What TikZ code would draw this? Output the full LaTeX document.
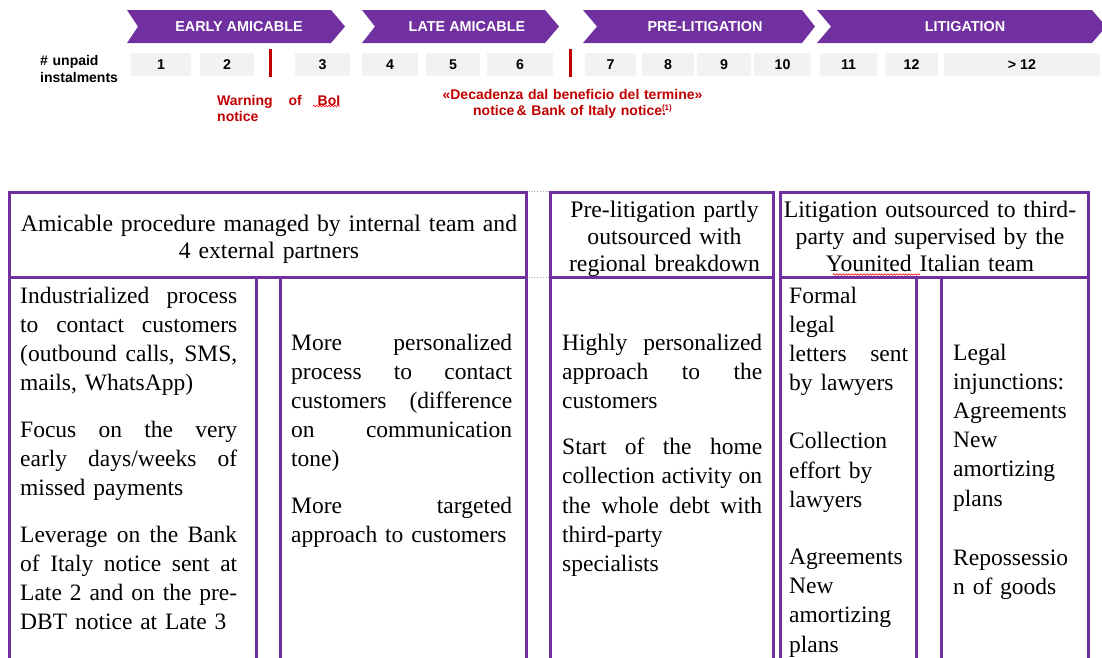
\documentclass[tikz,border=0pt]{standalone}
\usepackage{fontspec}
\setmainfont{Liberation Serif}
\newfontfamily\arialf{Liberation Sans}
\usetikzlibrary{decorations.pathmorphing}
\definecolor{vpurple}{HTML}{7030A0}
\definecolor{vred}{HTML}{C00000}
\definecolor{vgray}{HTML}{F2F2F2}
\definecolor{vdot}{HTML}{A6A6A6}
\newcommand\J[1]{\leavevmode\hbox to \hsize{\spaceskip=0.25em plus 1fil\relax #1}}
\tikzset{
  chev/.style={fill=vpurple},
  chevtxt/.style={text=white, font=\arialf\bfseries\fontsize{14.4}{16}\selectfont, inner sep=0pt},
  numbox/.style={fill=vgray, minimum height=23pt, inner sep=0pt, font=\arialf\bfseries\fontsize{14.2}{16}\selectfont},
  redtxt/.style={text=vred, font=\arialf\bfseries\fontsize{14}{16}\selectfont, inner sep=0pt},
  redbar/.style={draw=vred, line width=3pt},
  tline/.style={draw=vpurple, line width=3pt},
  dotline/.style={draw=vdot, line width=0.8pt, dotted},
  hdr/.style={anchor=base, align=center, inner sep=0pt, font=\fontsize{23.7}{27.3}\selectfont},
  body/.style={anchor=base west, align=left, inner sep=0pt, font=\fontsize{23.5}{29.1}\selectfont},
  squig/.style={draw=red, line width=0.6pt, decorate, decoration={snake, amplitude=0.8pt, segment length=3pt}}
}
\begin{document}
\begin{tikzpicture}[x=1pt,y=-1pt]
\useasboundingbox (0,0) rectangle (1102,657);
% chevrons
\fill[chev] (127,10) -- (331,10) -- (345,26.5) -- (331,43) -- (127,43) -- (138,26.5) -- cycle;
\node[chevtxt] (c1) at (239,26.5) {EARLY AMICABLE};
\fill[chev] (362,10) -- (545,10) -- (559,26.5) -- (545,43) -- (362,43) -- (375,26.5) -- cycle;
\node[chevtxt] (c2) at (467,26.5) {LATE AMICABLE};
\fill[chev] (583,10) -- (802,10) -- (815,26.5) -- (802,43) -- (583,43) -- (597,26.5) -- cycle;
\node[chevtxt] (c3) at (705,26.5) {PRE-LITIGATION};
\fill[chev] (817,10) -- (1092,10) -- (1106,26.5) -- (1092,43) -- (817,43) -- (831,26.5) -- cycle;
\node[chevtxt] (c4) at (965,26.5) {LITIGATION};
% label
\node[anchor=base west, align=left, text width=90pt, inner sep=0pt, font=\arialf\bfseries\fontsize{14}{17}\selectfont] (lab) at (40,65) {\# unpaid\\instalments};
% number boxes
\node[numbox, minimum width=60pt] (n1) at (161,64.5) {1};
\node[numbox, minimum width=54pt] (n2) at (227,64.5) {2};
\node[numbox, minimum width=55pt] (n3) at (322.5,64.5) {3};
\node[numbox, minimum width=56pt] (n4) at (390,64.5) {4};
\node[numbox, minimum width=54pt] (n5) at (453,64.5) {5};
\node[numbox, minimum width=66pt] (n6) at (520,64.5) {6};
\node[numbox, minimum width=51pt] (n7) at (610.5,64.5) {7};
\node[numbox, minimum width=52pt] (n8) at (668,64.5) {8};
\node[numbox, minimum width=54pt] (n9) at (724,64.5) {9};
\node[numbox, minimum width=57pt] (n10) at (782.5,64.5) {10};
\node[numbox, minimum width=57pt] (n11) at (848.5,64.5) {11};
\node[numbox, minimum width=53pt] (n12) at (911.5,64.5) {12};
\node[numbox, minimum width=156pt] (n13) at (1022,64.5) {> 12};
% red bars
\coordinate (r1t) at (270,49); \coordinate (r1b) at (270,77);
\coordinate (r2t) at (570,49); \coordinate (r2b) at (570,77);
\draw[redbar] (r1t) -- (r1b);
\draw[redbar] (r2t) -- (r2b);
% red texts
\node[redtxt, anchor=base west, align=left, text width=123pt] (w1) at (217,105) {\J{Warning of BoI}\\notice};
\draw[squig] (313,106) -- (340,106);
\node[redtxt, anchor=base, align=center, text width=300pt] (w2) at (572.5,99) {«Decadenza dal beneficio del termine»\\notice\,\& Bank of Italy notice.\hspace{-4pt}\raisebox{5pt}{\fontsize{8}{8}\selectfont(1)}};
% table lines
\draw[dotline] (526,191) -- (550,191);
\draw[dotline] (526,277) -- (550,277);
\draw[tline] (9.5,660) -- (9.5,192.5) -- (526,192.5) -- (526,660);
\draw[tline] (9.5,277.5) -- (526,277.5);
\draw[tline] (256.5,277.5) -- (256.5,660);
\draw[tline] (280.5,277.5) -- (280.5,660);
\draw[tline] (550.5,660) -- (550.5,192.5) -- (773,192.5) -- (773,660);
\draw[tline] (550.5,277.5) -- (773,277.5);
\draw[tline] (780,660) -- (780,192.5) -- (1088,192.5) -- (1088,660);
\draw[tline] (780,277.5) -- (1088,277.5);
\draw[tline] (916,277.5) -- (916,660);
\draw[tline] (941,277.5) -- (941,660);
% headers
\node[hdr, text width=510pt] (h1) at (269,231) {Amicable procedure managed by internal team and\\4 external partners};
\node[hdr, text width=220pt] (h2) at (664.5,217) {Pre-litigation partly\\outsourced with\\regional breakdown};
\node[hdr, text width=305pt] (h3) at (930,217) {Litigation outsourced to third-\\party and supervised by the\\Younited Italian team};
\draw[squig] (833,274.5) -- (920,274.5);
% bodies
\node[body, text width=217pt] (b1) at (20,303.5) {\J{Industrialized process}\\
\J{to contact customers}\\
\J{(outbound calls, SMS,}\\
mails, WhatsApp)\\[17.5pt]
\J{Focus on the very}\\
\J{early days/weeks of}\\
missed payments\\[17.5pt]
\J{Leverage on the Bank}\\
\J{of Italy notice sent at}\\
\J{Late 2 and on the pre-}\\
DBT notice at Late 3};
\node[body, text width=221pt] (b2) at (291,350.5) {\J{More personalized}\\
\J{process to contact}\\
\J{customers (difference}\\
\J{on communication}\\
tone)\\[17pt]
\J{More targeted}\\
approach to customers};
\node[body, text width=200pt] (b3) at (562,350.5) {\J{Highly personalized}\\
\J{approach to the}\\
customers\\[17pt]
\J{Start of the home}\\
\J{collection activity on}\\
\J{the whole debt with}\\
third-party\\
specialists};
\node[body, text width=119pt] (b4) at (789,303.5) {Formal\\
legal\\
\J{letters sent}\\
by lawyers\\[29pt]
Collection\\
effort by\\
lawyers\\[28.5pt]
Agreements\\
New\\
amortizing\\
plans};
\node[body, text width=125pt] (b5) at (953,360.5) {Legal\\
injunctions:\\
Agreements\\
New\\
amortizing\\
plans\\[30pt]
Repossessio\\
n of goods};
\end{tikzpicture}
\end{document}
